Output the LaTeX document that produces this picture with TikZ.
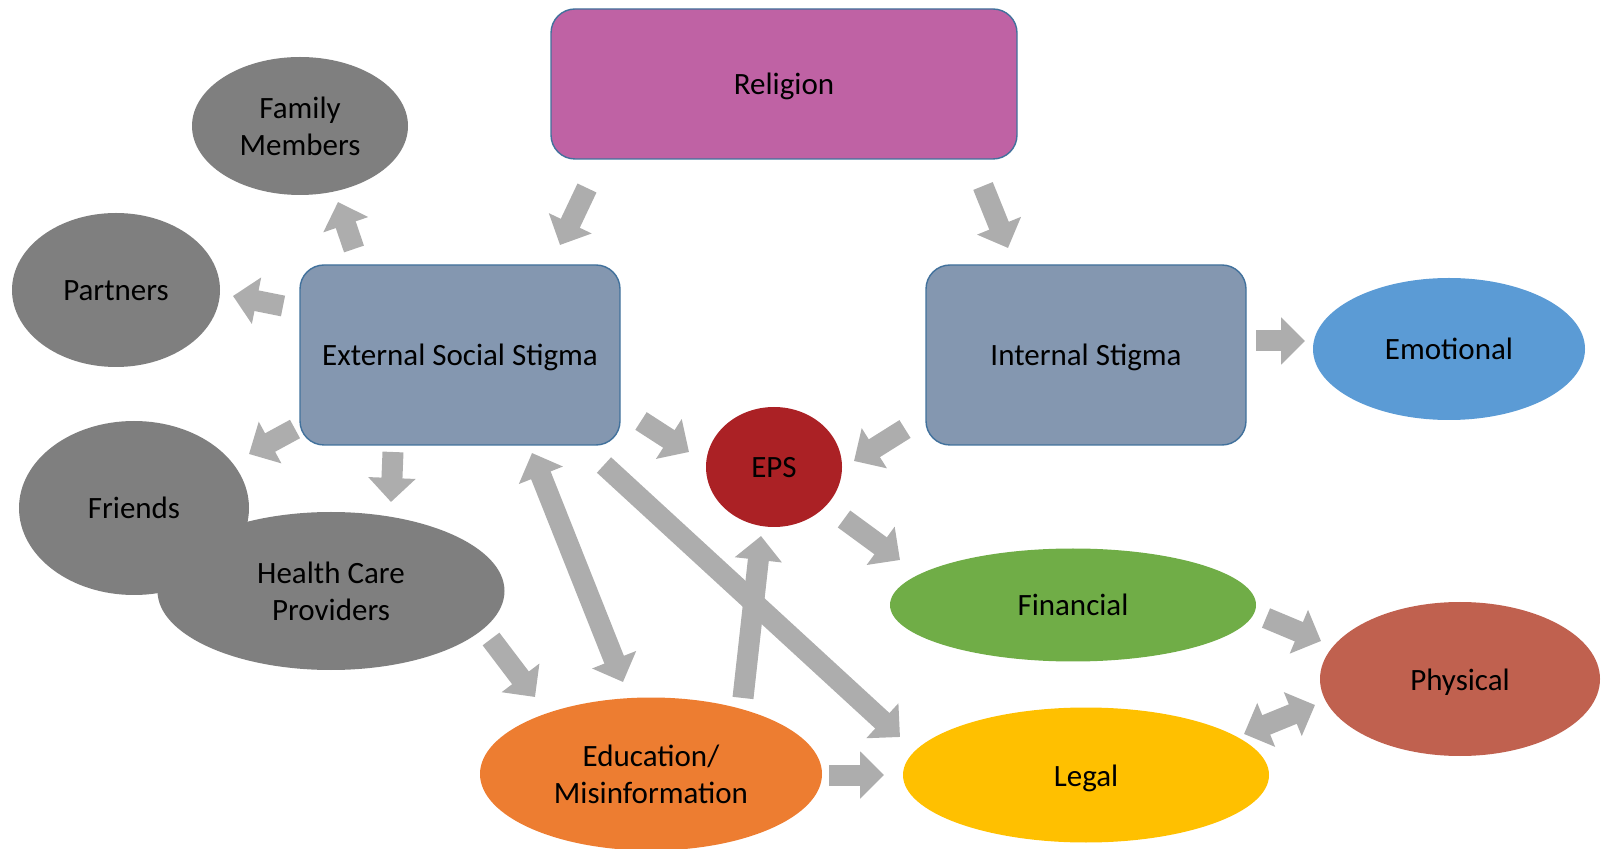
\documentclass[tikz,border=0pt]{standalone}
\usepackage{fontspec}
\setmainfont{Carlito}
\usepackage{tikz}
\usetikzlibrary{arrows.meta,shapes.geometric}

\definecolor{relcol}{HTML}{BF62A4}
\definecolor{stigcol}{HTML}{8497B0}
\definecolor{stigline}{HTML}{41719C}
\definecolor{greycol}{HTML}{7F7F7F}
\definecolor{emocol}{HTML}{5B9BD5}
\definecolor{epscol}{HTML}{AB2125}
\definecolor{fincol}{HTML}{70AD47}
\definecolor{phycol}{HTML}{C0614F}
\definecolor{legcol}{HTML}{FFC000}
\definecolor{educol}{HTML}{ED7D31}
\definecolor{arrcol}{HTML}{ADADAD}

\begin{document}
\begin{tikzpicture}[x=0.5pt,y=-0.5pt,
    every node/.style={font=\fontsize{15.5pt}{18.5pt}\selectfont, align=center, inner sep=0pt},
    oneline/.style={text height=12pt, text depth=1pt},
    box/.style={rectangle, rounded corners=12pt, fill=stigcol, draw=stigline, line width=0.7pt,
                minimum width=160pt, minimum height=90pt, oneline},
    blob/.style={ellipse, fill=greycol},
    blk/.style={draw=arrcol, line width=10.5pt, -{Triangle[width=23pt,length=12pt]}},
    blkb/.style={draw=arrcol, line width=10.5pt, {Triangle[width=23pt,length=12pt]}-{Triangle[width=23pt,length=12pt]}}]
    \useasboundingbox (0,0) rectangle (1601,849);

    % boxes
    \node[box, fill=relcol, minimum width=233pt, minimum height=75pt] (rel) at (784,84) {Religion};
    \node[box] (ess) at (460,355) {External Social Stigma};
    \node[box] (ins) at (1086,355) {Internal Stigma};

    % people
    \node[blob, minimum width=108pt, minimum height=69pt] (fam) at (300,126) {Family\\Members};
    \node[blob, oneline, minimum width=104pt, minimum height=77pt] (par) at (116,290) {Partners};
    \node[blob, oneline, minimum width=115pt, minimum height=87pt] (fri) at (134,508) {Friends};
    \node[blob, minimum width=173.5pt, minimum height=79pt] (hcp) at (331,591) {Health Care\\Providers};

    % outcomes
    \node[ellipse, oneline, fill=emocol, minimum width=136pt, minimum height=71pt] (emo) at (1449,349) {Emotional};
    \node[ellipse, oneline, fill=epscol, minimum width=68pt, minimum height=60pt] (eps) at (774,467) {EPS};
    \node[ellipse, oneline, fill=fincol, minimum width=183pt, minimum height=56.5pt] (fin) at (1073,605) {Financial};
    \node[ellipse, oneline, fill=phycol, minimum width=140pt, minimum height=77pt] (phy) at (1460,679) {Physical};
    \node[ellipse, oneline, fill=legcol, minimum width=183pt, minimum height=67.5pt] (leg) at (1086,775) {Legal};
    \node[ellipse, fill=educol, minimum width=171pt, minimum height=76.5pt] (edu) at (651,774) {Education/\\Misinformation};

    % arrow ends
    \foreach \n/\x/\y in {relEss/587/188, essTop/560/245, relIns/983/186, insTop/1008/248,
        essFam/354/249, famEnd/338/202, essPar/283/306, parEnd/233/296,
        essFri/295/429, friEnd/249/454, essHcp/393/452, hcpEnd/391/502,
        essEps/641/421, epsL/689/452, insEps/905/429, epsR/854/461,
        insEmo/1256/341, emoEnd/1305/341, epsFin/844/519, finEnd/900/560,
        essEdu/532/453, eduTop/623/682, essLeg/604/465, legEnd/900/737,
        eduEps/743/698, epsEnd/761/536, hcpEdu/491/639, eduEnd/535/697,
        eduLeg/829/775, legL/884/775, finPhy/1266/618, phyEnd/1321/641,
        legPhy/1244/734, phyL/1315/705}
        \coordinate (\n) at (\x,\y);

    \draw[blk] (relEss) -- (essTop);
    \draw[blk] (relIns) -- (insTop);
    \draw[blk] (essFam) -- (famEnd);
    \draw[blk] (essPar) -- (parEnd);
    \draw[blk] (essFri) -- (friEnd);
    \draw[blk] (essHcp) -- (hcpEnd);
    \draw[blk] (essEps) -- (epsL);
    \draw[blk] (insEps) -- (epsR);
    \draw[blk] (insEmo) -- (emoEnd);
    \draw[blk] (epsFin) -- (finEnd);
    \draw[blkb] (essEdu) -- (eduTop);
    \draw[blk] (essLeg) -- (legEnd);
    \draw[blk] (eduEps) -- (epsEnd);
    \draw[blk] (hcpEdu) -- (eduEnd);
    \draw[blk] (eduLeg) -- (legL);
    \draw[blk] (finPhy) -- (phyEnd);
    \draw[blkb] (legPhy) -- (phyL);
\end{tikzpicture}
\end{document}
